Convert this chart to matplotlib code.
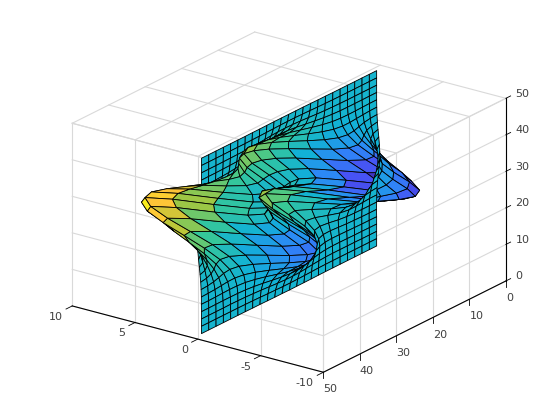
import numpy as np
import matplotlib
matplotlib.use('Agg')
import matplotlib.pyplot as plt
from matplotlib.colors import LinearSegmentedColormap, Normalize
from mpl_toolkits.mplot3d import proj3d

# sheet position along y and z (every second mesh line of the original)
y_pos = [1, 3, 5, 7, 9, 11, 13, 15, 17, 19, 21, 23, 25, 27, 29, 31, 33, 35, 37, 39, 41, 43, 45, 47, 49]
z_pos = [1, 3, 5, 7, 9, 11, 13, 15, 17, 19, 21, 23, 25, 27, 29, 31, 33, 35, 37, 39, 41, 43, 45, 47, 49]

# x value of the sheet, one row per z_pos, one column per y_pos
sheet_x = [
[0,0,0,0,0,0,0,0,-.01,-.02,-.03,-.03,-.04,-.03,-.03,-.02,-.01,-.01,0,0,0,0,0,0,0],
[0,0,0,0,0,0,0,-.01,-.02,-.05,-.08,-.10,-.11,-.11,-.09,-.07,-.04,-.02,-.01,0,0,0,0,0,0],
[0,0,0,.01,.01,.01,.01,-.01,-.06,-.12,-.20,-.27,-.30,-.29,-.25,-.18,-.11,-.06,-.02,0,.01,0,0,0,0],
[0,0,.01,.01,.02,.03,.03,-.01,-.10,-.25,-.44,-.60,-.69,-.67,-.57,-.42,-.25,-.12,-.03,.01,.02,.02,.01,0,0],
[0,.01,.01,.03,.05,.07,.08,.03,-.13,-.42,-.80,-1.14,-1.33,-1.32,-1.12,-.82,-.48,-.20,-.01,.07,.08,.06,.03,.01,.01],
[.01,.01,.02,.04,.07,.13,.19,.17,-.04,-.51,-1.16,-1.78,-2.14,-2.16,-1.85,-1.33,-.74,-.23,.11,.24,.23,.15,.08,.04,.01],
[0,0,0,.01,.05,.15,.33,.44,.30,-.28,-1.21,-2.16,-2.76,-2.86,-2.49,-1.76,-.86,-.05,.48,.64,.55,.36,.19,.08,.03],
[-.01,-.02,-.07,-.12,-.13,.02,.40,.83,.99,.49,-.60,-1.84,-2.72,-2.98,-2.64,-1.78,-.60,.55,1.28,1.43,1.16,.74,.39,.17,.06],
[-.03,-.10,-.23,-.44,-.59,-.46,.16,1.10,1.86,1.78,.80,-.56,-1.65,-2.15,-2.00,-1.16,.23,1.70,2.60,2.68,2.10,1.32,.69,.30,.11],
[-.08,-.22,-.53,-.99,-1.45,-1.48,-.67,.88,2.45,3.09,2.49,1.23,.07,-.64,-.76,-.05,1.51,3.29,4.37,4.29,3.31,2.07,1.07,.47,.17],
[-.14,-.39,-.91,-1.74,-2.64,-3.01,-2.18,-.14,2.22,3.63,3.55,2.56,1.48,.68,.39,1.04,2.80,4.92,6.19,5.96,4.56,2.84,1.46,.64,.23],
[-.20,-.56,-1.30,-2.50,-3.88,-4.70,-4.06,-1.85,1.00,2.94,3.31,2.63,1.75,1.06,.79,1.55,3.59,6.07,7.53,7.22,5.51,3.43,1.77,.77,.28],
[-.25,-.68,-1.57,-3.02,-4.76,-5.98,-5.67,-3.61,-.73,1.40,2.00,1.59,.98,.52,.46,1.42,3.69,6.39,7.98,7.68,5.86,3.65,1.88,.82,.30],
[-.25,-.70,-1.60,-3.10,-4.93,-6.33,-6.31,-4.60,-2.01,0,.70,.53,.19,-.03,.09,1.12,3.34,5.94,7.47,7.19,5.50,3.42,1.76,.77,.28],
[-.22,-.61,-1.40,-2.72,-4.35,-5.64,-5.75,-4.40,-2.22,-.41,.39,.48,.37,.28,.38,1.17,2.94,5.02,6.24,5.99,4.57,2.84,1.47,.64,.23],
[-.17,-.46,-1.06,-2.05,-3.27,-4.25,-4.31,-3.23,-1.43,.21,1.14,1.50,1.57,1.47,1.34,1.65,2.66,3.97,4.72,4.45,3.37,2.09,1.08,.48,.17],
[-.11,-.30,-.69,-1.32,-2.10,-2.69,-2.63,-1.74,-.27,1.18,2.20,2.76,2.94,2.76,2.38,2.17,2.44,2.97,3.25,2.96,2.21,1.36,.70,.30,.11],
[-.06,-.17,-.38,-.74,-1.15,-1.42,-1.27,-.56,.58,1.79,2.76,3.38,3.59,3.37,2.84,2.32,2.09,2.10,2.05,1.78,1.30,.79,.40,.17,.06],
[-.03,-.08,-.18,-.35,-.53,-.61,-.44,.08,.88,1.77,2.55,3.08,3.26,3.05,2.55,1.99,1.58,1.35,1.18,.96,.67,.40,.20,.09,.03],
[-.01,-.03,-.08,-.14,-.20,-.20,-.07,.27,.77,1.35,1.88,2.25,2.37,2.22,1.85,1.40,1.04,.79,.62,.47,.32,.19,.09,.04,.01],
[0,-.01,-.03,-.05,-.06,-.04,.04,.23,.50,.82,1.12,1.34,1.41,1.32,1.09,.82,.58,.41,.29,.21,.13,.08,.04,.02,.01],
[0,0,-.01,-.01,-.01,0,.05,.13,.26,.41,.56,.67,.70,.66,.54,.40,.28,.19,.12,.08,.05,.03,.01,.01,0],
[0,0,0,0,0,.01,.03,.06,.11,.18,.24,.28,.30,.28,.24,.17,.12,.07,.05,.03,.02,.01,0,0,0],
[0,0,0,0,0,0,.01,.02,.04,.07,.09,.11,.11,.10,.08,.06,.04,.03,.01,.01,.01,0,0,0,0],
[0,0,0,0,0,0,0,.01,.01,.02,.03,.03,.03,.03,.03,.02,.01,.01,0,0,0,0,0,0,0],
]

x_ticks = [-10, -5, 0, 5, 10]
y_ticks = [0, 10, 20, 30, 40, 50]
z_ticks = [0, 10, 20, 30, 40, 50]

# parula
parula = LinearSegmentedColormap.from_list('parula', [
    (0.2422, 0.1504, 0.6603), (0.2810, 0.3228, 0.9579), (0.1786, 0.5289, 0.9682),
    (0.0689, 0.6948, 0.8394), (0.2161, 0.7843, 0.5923), (0.6720, 0.7793, 0.2227),
    (0.9970, 0.7659, 0.2199), (0.9769, 0.9839, 0.0805)])

grid_col = '#d9d9d9'
text_col = '#404040'

fig = plt.figure(figsize=(5.6, 4.2), dpi=100)
ax = fig.add_axes([21/560, 32.5/420, 522/560, 361/420], projection='3d', proj_type='ortho', computed_zorder=False)
ax.apply_aspect = lambda position=None: None  # let the cube stretch like the original
ax.set_box_aspect((1, 1, 1))
ax.view_init(elev=31.7, azim=126)
ax.set_xlim(-10, 10, view_margin=0)
ax.set_ylim(0, 50, view_margin=0)
ax.set_zlim(0, 50, view_margin=0)
ax.set_axis_off()


def label(x, y, z, s, ha):
    # place a tick label where the 3d point lands on the axes
    px, py, _ = proj3d.proj_transform(x, y, z, ax.get_proj())
    ax.text2D(px, py, s, transform=ax.transData, ha=ha, va='center', fontsize=8, color=text_col)


# the box is drawn inside out in the original: walls at x=-10, y=50 and z=50
for v in y_ticks:
    ax.plot([-10, -10], [v, v], [0, 50], color=grid_col, lw=0.8, zorder=1)
    ax.plot([-10, 10], [v, v], [50, 50], color=grid_col, lw=0.8, zorder=1)
for v in x_ticks:
    ax.plot([v, v], [50, 50], [0, 50], color=grid_col, lw=0.8, zorder=1)
    ax.plot([v, v], [0, 50], [50, 50], color=grid_col, lw=0.8, zorder=1)
for v in z_ticks:
    ax.plot([-10, -10], [0, 50], [v, v], color=grid_col, lw=0.8, zorder=1)
    ax.plot([-10, 10], [50, 50], [v, v], color=grid_col, lw=0.8, zorder=1)

Y, Z = np.meshgrid(y_pos, z_pos)
X = np.array(sheet_x)
colors = parula(Normalize(-6.55, 8.1)(X))
surf = ax.plot_surface(X, Y, Z, facecolors=colors, rstride=1, cstride=1, shade=False,
                       edgecolor='k', linewidth=0.6, antialiased=True, zorder=2)
surf._zsortfunc = lambda zs: -np.average(zs)  # same depth order as the original

# axis lines, ticks and labels
ax.plot([-10, 10], [50, 50], [0, 0], color='k', lw=0.8, zorder=3)
ax.plot([-10, -10], [0, 50], [0, 0], color='k', lw=0.8, zorder=3)
ax.plot([-10, -10], [0, 0], [0, 50], color='k', lw=0.8, zorder=3)
for v in x_ticks:
    ax.plot([v, v], [50, 51.7], [0, 0], color='k', lw=0.6, zorder=3)
    label(v, 52.6, -1.7, str(v), 'right')
for v in y_ticks:
    ax.plot([-10, -10], [v, v], [0, -1.6], color='k', lw=0.6, zorder=3)
    label(-10, v, -4.7, str(v), 'left')
for v in z_ticks:
    ax.plot([-10, -10], [0, -1.3], [v, v], color='k', lw=0.6, zorder=3)
    label(-10, -2.6, v, str(v), 'left')

plt.savefig('out.png', dpi=100)
